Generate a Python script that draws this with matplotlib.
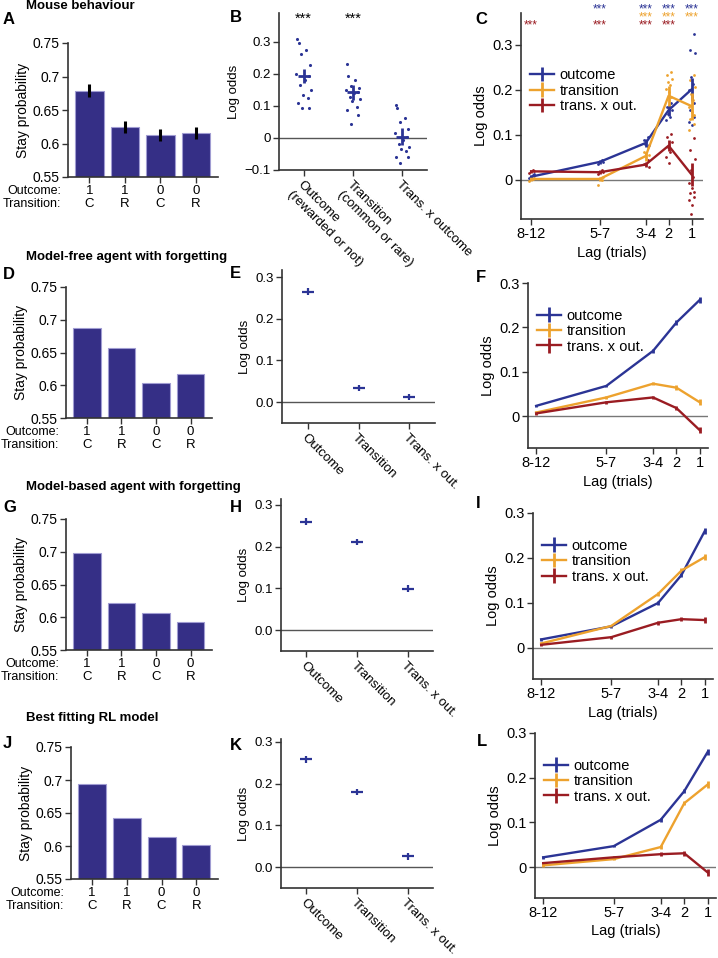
import matplotlib

matplotlib.use("Agg")
import matplotlib.pyplot as plt
import matplotlib.transforms as mtransforms
import numpy as np

plt.rcParams["font.family"] = ["Liberation Sans", "DejaVu Sans"]
plt.rcParams["font.size"] = 9

W, H = 718, 958
BAR_COLOR = "#352F86"
BAR_EDGE = "#A09CD2"
BLUE = "#2B3495"
ORANGE = "#EDA22E"
RED = "#9A1C22"
SPINE = "#333333"

# ---- stay probability bars (A, D, G, J) ----
bar_outcome = ["1", "1", "0", "0"]
bar_transition = ["C", "R", "C", "R"]
stay_mouse = [0.679, 0.625, 0.613, 0.615]
stay_mouse_err = [0.010, 0.009, 0.009, 0.009]
stay_model_free = [0.688, 0.657, 0.603, 0.617]
stay_model_based = [0.698, 0.622, 0.607, 0.593]
stay_best_rl = [0.694, 0.642, 0.614, 0.601]

# ---- regression coefficients (B, E, H, K) ----
coef_labels_mouse = ["Outcome\n(rewarded or not)", "Transition\n(common or rare)", "Trans. x outcome"]
coef_labels_model = ["Outcome", "Transition", "Trans. x out."]
coef_mouse_mean = [0.192, 0.142, 0.004]
coef_mouse_sem = [0.022, 0.023, 0.027]
coef_mouse_points = [
    [0.310, 0.297, 0.276, 0.262, 0.229, 0.200, 0.192, 0.181, 0.166, 0.150, 0.134, 0.124, 0.108, 0.095, 0.092],
    [0.231, 0.194, 0.181, 0.163, 0.155, 0.150, 0.145, 0.140, 0.129, 0.121, 0.115, 0.098, 0.087, 0.071, 0.045],
    [0.103, 0.092, 0.061, 0.050, 0.029, 0.014, 0.003, -0.007, -0.018, -0.028, -0.034, -0.041, -0.060, -0.058, -0.079],
]
coef_jitter = [-0.13, -0.10, 0.05, -0.05, 0.12, -0.15, 0.10, 0.02, -0.07, 0.14, -0.02, 0.08, -0.12, 0.11, -0.04]
coef_model_free = [0.265, 0.034, 0.012]
coef_model_based = [0.260, 0.211, 0.099]
coef_best_rl = [0.258, 0.180, 0.026]
coef_model_err = [0.008, 0.008, 0.008]

# ---- lagged regression (C, F, I, L) ----
lag_labels = ["8-12", "5-7", "3-4", "2", "1"]
lag_pos = [-8, -5, -3, -2, -1]
series_names = ["outcome", "transition", "trans. x out."]

lag_mouse = {
    "outcome": [0.007, 0.040, 0.082, 0.155, 0.201],
    "transition": [0.002, 0.002, 0.053, 0.187, 0.164],
    "trans. x out.": [0.019, 0.017, 0.034, 0.076, 0.012],
}
lag_mouse_err = {
    "outcome": [0.004, 0.004, 0.008, 0.012, 0.025],
    "transition": [0.004, 0.005, 0.010, 0.022, 0.030],
    "trans. x out.": [0.004, 0.005, 0.006, 0.012, 0.025],
}
lag_mouse_points = {
    "outcome": [
        [0.010, 0.004, 0.012],
        [0.044, 0.036, 0.040],
        [0.096, 0.088, 0.077, 0.080],
        [0.170, 0.162, 0.155, 0.147, 0.140, 0.133],
        [0.325, 0.288, 0.281, 0.229, 0.214, 0.199, 0.184, 0.170, 0.155, 0.140, 0.129, 0.121],
    ],
    "transition": [
        [0.003, -0.002, 0.005],
        [0.000, -0.012, 0.006],
        [0.073, 0.062, 0.055],
        [0.240, 0.233, 0.225, 0.218, 0.210, 0.203, 0.196, 0.184],
        [0.233, 0.221, 0.207, 0.192, 0.177, 0.162, 0.151, 0.144, 0.136, 0.125, 0.110],
    ],
    "trans. x out.": [
        [0.022, 0.016, 0.020],
        [0.021, 0.014, 0.018],
        [0.044, 0.036, 0.029],
        [0.103, 0.096, 0.084, 0.073, 0.062, 0.051, 0.038],
        [0.092, 0.066, 0.047, 0.021, 0.007, -0.008, -0.019, -0.027, -0.030, -0.038, -0.045, -0.056, -0.075],
    ],
}
lag_point_jitter = [0.10, -0.08, 0.14, -0.03, 0.06, -0.12, 0.02, 0.12, -0.06, 0.09, -0.10, 0.04, -0.02]

# significance rows above panel C: which lags carry '***' for each series
lag_mouse_sig = {
    "outcome": [False, True, True, True, True],
    "transition": [False, False, True, True, True],
    "trans. x out.": [True, True, True, True, False],
}

lag_model_free = {
    "outcome": [0.023, 0.068, 0.147, 0.211, 0.262],
    "transition": [0.008, 0.042, 0.073, 0.064, 0.031],
    "trans. x out.": [0.006, 0.031, 0.042, 0.018, -0.032],
}
lag_model_based = {
    "outcome": [0.019, 0.048, 0.100, 0.162, 0.260],
    "transition": [0.010, 0.049, 0.120, 0.172, 0.202],
    "trans. x out.": [0.007, 0.024, 0.056, 0.064, 0.062],
}
lag_best_rl = {
    "outcome": [0.022, 0.047, 0.106, 0.170, 0.258],
    "transition": [0.004, 0.018, 0.045, 0.143, 0.185],
    "trans. x out.": [0.009, 0.022, 0.029, 0.031, -0.012],
}
lag_model_err = [0.003, 0.003, 0.004, 0.005, 0.007]

SERIES_COLORS = {"outcome": BLUE, "transition": ORANGE, "trans. x out.": RED}


def px_axes(fig, left, top, right, bottom):
    return fig.add_axes([left / W, 1 - bottom / H, (right - left) / W, (bottom - top) / H])


def px_text(fig, x, y, s, **kw):
    fig.text(x / W, 1 - y / H, s, **kw)


def style_axis(ax, size=10):
    for side in ("top", "right"):
        ax.spines[side].set_visible(False)
    for side in ("left", "bottom"):
        ax.spines[side].set_color(SPINE)
        ax.spines[side].set_linewidth(1.2)
    ax.tick_params(direction="out", length=4, width=1, color=SPINE, labelsize=size, pad=2)


def bar_panel(fig, box, values, err=None):
    ax = px_axes(fig, *box)
    x = np.arange(len(values))
    ax.bar(x, values, width=0.8, color=BAR_COLOR, edgecolor=BAR_EDGE, linewidth=0.8)
    if err is not None:
        ax.errorbar(x, values, yerr=err, fmt="none", ecolor="black", elinewidth=2.2, capsize=0)
    ax.set_ylim(0.55, 0.75)
    ax.set_xlim(-0.6, 3.62)
    ax.set_yticks([0.55, 0.6, 0.65, 0.7, 0.75])
    ax.set_yticklabels(["0.55", "0.6", "0.65", "0.7", "0.75"])
    ax.set_xticks(x)
    style_axis(ax)
    ax.set_xticklabels([f"{o}\n{t}" for o, t in zip(bar_outcome, bar_transition)],
                       linespacing=1.05, fontsize=9.5)
    ax.set_ylabel("Stay probability", fontsize=10, labelpad=2)
    offset = mtransforms.ScaledTranslation(-0.07, -6 / 72, fig.dpi_scale_trans)
    ax.text(0, 0, "Outcome:\nTransition:", transform=ax.transAxes + offset,
            ha="right", va="top", fontsize=9, linespacing=1.12)
    return ax


def coef_panel(fig, box, means, err, labels, ylim, points=None):
    ax = px_axes(fig, *box)
    x = np.arange(len(means))
    ax.axhline(0, color="#555555", lw=1, zorder=0)
    if points is not None:
        for i, vals in enumerate(points):
            ax.scatter(i + np.array(coef_jitter[: len(vals)]), vals, s=5, color=BLUE, lw=0, zorder=2)
        ax.errorbar(x, means, yerr=err, fmt="_", color=BLUE, ms=9, mew=2,
                    elinewidth=2, capsize=0, zorder=3)
    else:
        ax.errorbar(x, means, yerr=err, fmt="_", color=BLUE, ms=8, mew=1.6,
                    elinewidth=1.6, capsize=0, zorder=3)
    ax.set_xlim(-0.5, 2.5)
    ax.set_ylim(*ylim)
    ax.set_xticks(x)
    style_axis(ax, size=9.5)
    ax.set_xticklabels(labels, rotation=-45, ha="left", va="top", rotation_mode="anchor", fontsize=9.5)
    ax.set_ylabel("Log odds", fontsize=9.5, labelpad=3)
    return ax


def lag_panel(fig, box, data, ylim, errors=None, points=None, legend_y=0.88):
    ax = px_axes(fig, *box)
    ax.axhline(0, color="#777777", lw=1, zorder=0)
    handles = []
    for name in series_names:
        color = SERIES_COLORS[name]
        if points is not None:
            for pos, vals in zip(lag_pos, points[name]):
                ax.scatter(pos + np.array(lag_point_jitter[: len(vals)]), vals, s=4, color=color, lw=0, zorder=2)
        yerr = errors[name] if errors is not None else lag_model_err
        h = ax.errorbar(lag_pos, data[name], yerr=yerr, color=color, lw=1.7,
                        elinewidth=2, capsize=0, zorder=3, label=name)
        handles.append(h)
    ax.set_ylim(*ylim)
    ax.set_yticks([0, 0.1, 0.2, 0.3])
    ax.set_yticklabels(["0", "0.1", "0.2", "0.3"])
    ax.set_xticks(lag_pos)
    ax.set_xticklabels(lag_labels)
    ax.set_xlabel("Lag (trials)", fontsize=10.5, labelpad=3)
    ax.set_ylabel("Log odds", fontsize=10.5, labelpad=3)
    ax.legend(handles=handles, loc="upper left", bbox_to_anchor=(0.02, legend_y), frameon=False,
              fontsize=10.5, handlelength=1.6, handletextpad=0.4, labelspacing=0.1, borderaxespad=0)
    style_axis(ax, size=10.5)
    return ax


fig = plt.figure(figsize=(W / 100, H / 100), dpi=100)

# row 1: mouse behaviour
px_text(fig, 26, 6, "Mouse behaviour", fontsize=9.5, fontweight="bold", va="center")
bar_panel(fig, (68, 43, 218, 177), stay_mouse, stay_mouse_err)
ax_b = coef_panel(fig, (279, 13, 427, 170), coef_mouse_mean, coef_mouse_sem,
                  coef_labels_mouse, (-0.1, 0.39), points=coef_mouse_points)
ax_b.set_yticks([-0.1, 0, 0.1, 0.2, 0.3])
ax_b.set_yticklabels(["\u22120.1", "0", "0.1", "0.2", "0.3"])
for i in range(2):
    ax_b.text(i, 0.372, "***", ha="center", va="center", fontsize=10.5)
ax_c = lag_panel(fig, (521, 13, 703, 219), lag_mouse, (-0.087, 0.371),
                 errors=lag_mouse_err, points=lag_mouse_points, legend_y=0.76)
star_rows = {"outcome": 0.378, "transition": 0.361, "trans. x out.": 0.344}
for name in series_names:
    for pos, sig in zip(lag_pos, lag_mouse_sig[name]):
        if sig:
            ax_c.text(pos, star_rows[name], "***", color=SERIES_COLORS[name], ha="center",
                      va="center", fontsize=8.5, clip_on=False)

# row 2: model-free agent
px_text(fig, 26, 257, "Model-free agent with forgetting", fontsize=9.5, fontweight="bold", va="center")
bar_panel(fig, (66, 287, 212, 418), stay_model_free)
coef_panel(fig, (282, 270, 435, 423), coef_model_free, coef_model_err, coef_labels_model, (-0.05, 0.317))
lag_panel(fig, (528, 283, 708, 448), lag_model_free, (-0.072, 0.3))

# row 3: model-based agent
px_text(fig, 26, 487, "Model-based agent with forgetting", fontsize=9.5, fontweight="bold", va="center")
bar_panel(fig, (66, 519, 212, 650), stay_model_based)
coef_panel(fig, (281, 499, 433, 651), coef_model_based, coef_model_err, coef_labels_model, (-0.05, 0.314))
lag_panel(fig, (533, 513, 713, 679), lag_model_based, (-0.069, 0.3))

# row 4: best fitting RL model
px_text(fig, 26, 718, "Best fitting RL model", fontsize=9.5, fontweight="bold", va="center")
bar_panel(fig, (71, 747, 218, 879), stay_best_rl)
coef_panel(fig, (281, 739, 433, 888), coef_best_rl, coef_model_err, coef_labels_model, (-0.05, 0.307))
lag_panel(fig, (535, 733, 716, 898), lag_best_rl, (-0.069, 0.3))

# panel letters
letters = [("A", 3, 20), ("B", 230, 18), ("C", 475, 20),
           ("D", 3, 275), ("E", 230, 273), ("F", 476, 277),
           ("G", 3, 508), ("H", 230, 507), ("I", 476, 503),
           ("J", 3, 743), ("K", 230, 746), ("L", 477, 742)]
for letter, x, y in letters:
    px_text(fig, x, y, letter, fontsize=12, fontweight="bold", va="center")

fig.savefig("out.png", dpi=100)
